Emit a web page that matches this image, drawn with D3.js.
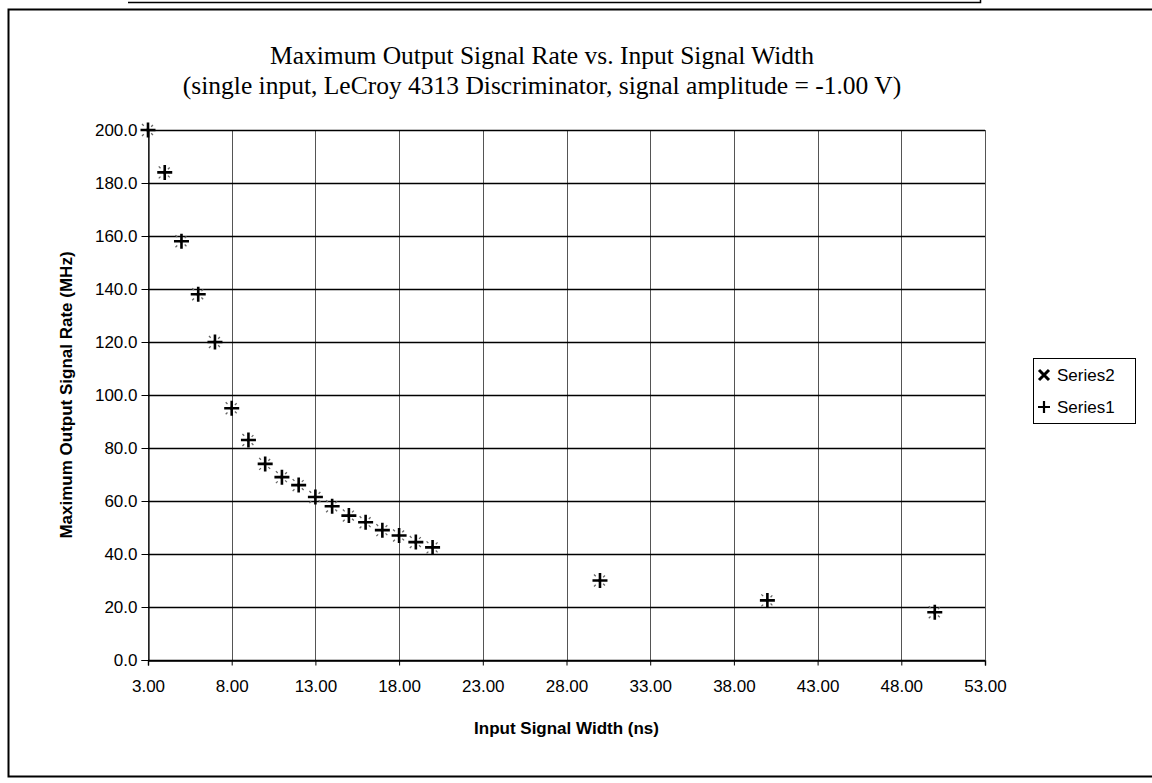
<!DOCTYPE html>
<html>
<head>
<meta charset="utf-8">
<script src="https://cdn.jsdelivr.net/npm/d3@7"></script>
<style>
  html, body { margin: 0; padding: 0; background: #fff; }
  svg { display: block; }
</style>
</head>
<body>
<svg id="chart" width="1152" height="783"></svg>
<script>
// ---- data ----
const widths = [3, 4, 5, 6, 7, 8, 9, 10, 11, 12, 13, 14, 15, 16, 17, 18, 19, 20, 30, 40, 50];
const series1 = [200, 184, 158, 138, 120, 95, 83, 74, 69, 66, 61.5, 58, 54.5, 52, 49, 47, 44.5, 42.5, 30, 22.5, 18];
const series2 = [200, 184, 158, 138, 120, 95, 83, 74, 69, 66, 61.5, 58, 54.5, 52, 49, 47, 44.5, 42.5, 30, 22.5, 18];
const xTicks = [3, 8, 13, 18, 23, 28, 33, 38, 43, 48, 53];
const yTicks = [0, 20, 40, 60, 80, 100, 120, 140, 160, 180, 200];
const titleLines = ["Maximum Output Signal Rate vs. Input Signal Width",
                    "(single input, LeCroy 4313 Discriminator, signal amplitude = -1.00 V)"];
const xTitle = "Input Signal Width (ns)";
const yTitle = "Maximum Output Signal Rate (MHz)";
const legendNames = ["Series2", "Series1"];

// ---- layout ----
const svg = d3.select("#chart");
const plot = {left: 148, right: 985, top: 130, bottom: 660};
const x = d3.scaleLinear().domain([3, 53]).range([plot.left, plot.right]);
const y = d3.scaleLinear().domain([0, 200]).range([plot.bottom, plot.top]);
const sans = "Arial, 'Liberation Sans', sans-serif";
const serif = "'Times New Roman', 'Liberation Serif', serif";

// outer frames (scanned page look)
const frame = svg.append("g").attr("fill", "none").attr("stroke", "#000");
frame.append("path").attr("d", "M128,2.5H980.5V0").attr("stroke-width", 1.5);
frame.append("path").attr("d", "M1152,9.5H8.5V776.5H1152").attr("stroke-width", 2);

// gridlines
const grid = svg.append("g");
grid.selectAll("line.v").data(xTicks).join("line")
  .attr("x1", d => Math.round(x(d)) + 0.5).attr("x2", d => Math.round(x(d)) + 0.5)
  .attr("y1", plot.top).attr("y2", plot.bottom)
  .attr("stroke", "#555").attr("stroke-width", 1);
grid.selectAll("line.h").data(yTicks).join("line")
  .attr("x1", plot.left).attr("x2", plot.right)
  .attr("y1", d => Math.round(y(d)) + 0.5).attr("y2", d => Math.round(y(d)) + 0.5)
  .attr("stroke", "#000").attr("stroke-width", 1.4);

// axes
const yAxis = d3.axisLeft(y).tickValues(yTicks).tickSize(7).tickPadding(4).tickFormat(d3.format(".1f"));
const gy = svg.append("g").attr("transform", `translate(${plot.left + 0.5},0)`).call(yAxis);
gy.select(".domain").attr("stroke", "#000").attr("stroke-width", 1.2);
gy.selectAll("text").attr("font-family", sans).attr("font-size", 17).attr("fill", "#000");

const xAxis = d3.axisBottom(x).tickValues(xTicks).tickSize(5).tickPadding(14).tickFormat(d3.format(".2f"));
const gx = svg.append("g").attr("transform", `translate(0,${plot.bottom + 0.5})`).call(xAxis);
gx.select(".domain").attr("stroke", "#000").attr("stroke-width", 1.4);
gx.selectAll("text").attr("font-family", sans).attr("font-size", 17).attr("fill", "#000");

// titles
const tcx = 542;
svg.append("text").attr("x", tcx).attr("y", 64).attr("text-anchor", "middle")
  .attr("font-family", serif).attr("font-size", 25.5)
  .text(titleLines[0]);
svg.append("text").attr("x", tcx).attr("y", 94).attr("text-anchor", "middle")
  .attr("font-family", serif).attr("font-size", 25.5)
  .text(titleLines[1]);
svg.append("text").attr("x", (plot.left + plot.right) / 2).attr("y", 734).attr("text-anchor", "middle")
  .attr("font-family", sans).attr("font-size", 17).attr("font-weight", "bold")
  .text(xTitle);
svg.append("text").attr("transform", `translate(72,${(plot.top + plot.bottom) / 2}) rotate(-90)`)
  .attr("text-anchor", "middle")
  .attr("font-family", sans).attr("font-size", 17).attr("font-weight", "bold")
  .text(yTitle);

// markers
function plus(s) { return `M${-s},0H${s}M0,${-s}V${s}`; }
function cross(s) { return `M${-s},${-s}L${s},${s}M${-s},${s}L${s},${-s}`; }
const pts2 = widths.map((w, i) => [w, series2[i]]);
const pts1 = widths.map((w, i) => [w, series1[i]]);
svg.append("g").selectAll("path").data(pts2).join("path")
  .attr("transform", d => `translate(${x(d[0])},${y(d[1])})`)
  .attr("d", cross(6)).attr("stroke", "#666").attr("stroke-width", 1.3)
  .attr("stroke-dasharray", "2.5,4").attr("fill", "none");
svg.append("g").selectAll("path").data(pts1).join("path")
  .attr("transform", d => `translate(${x(d[0])},${y(d[1])})`)
  .attr("d", plus(7.5)).attr("stroke", "#000").attr("stroke-width", 2.6).attr("fill", "none");

// legend
const lg = svg.append("g").attr("transform", "translate(1033,358)");
lg.append("rect").attr("x", 0.5).attr("y", 0.5).attr("width", 102).attr("height", 65)
  .attr("fill", "#fff").attr("stroke", "#000").attr("stroke-width", 1);
const entries = lg.selectAll("g.e").data(legendNames).join("g")
  .attr("transform", (d, i) => `translate(0,${17 + i * 32})`);
entries.append("path").attr("transform", "translate(11,0)")
  .attr("d", (d, i) => i === 0 ? cross(5) : plus(6))
  .attr("stroke", "#000").attr("stroke-width", (d, i) => i === 0 ? 3 : 2.2).attr("fill", "none");
entries.append("text").attr("x", 24).attr("y", 6)
  .attr("font-family", sans).attr("font-size", 17)
  .text(d => d);
</script>
</body>
</html>
